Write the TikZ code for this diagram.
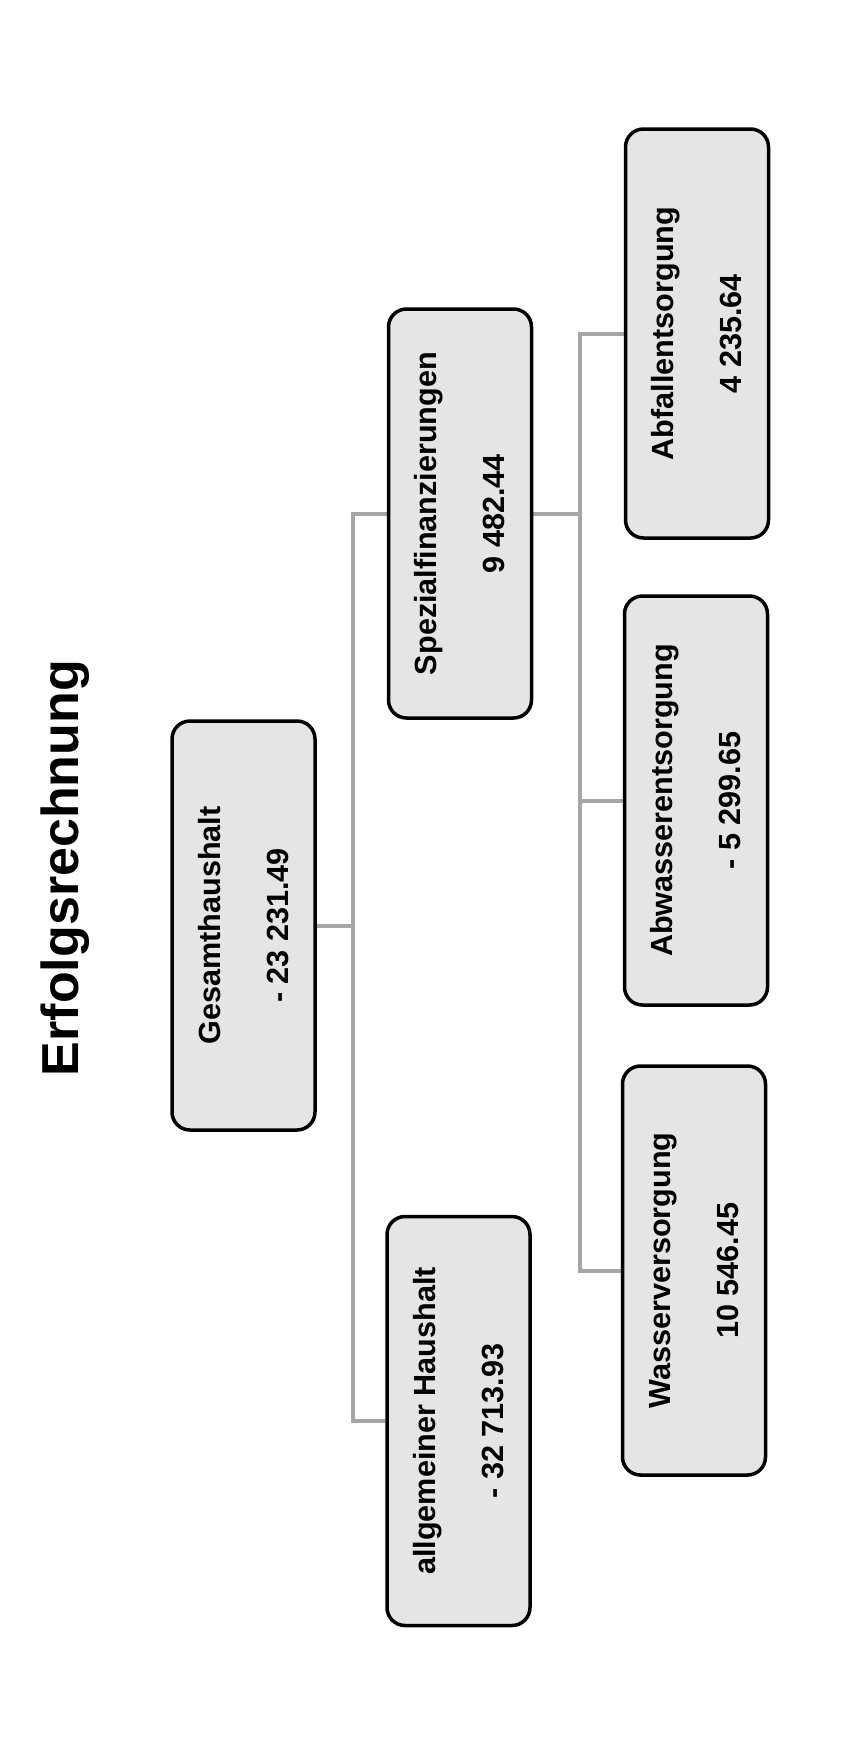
\documentclass[tikz,border=0pt]{standalone}
\usepackage{fontspec}
\setmainfont{Liberation Sans}
\usetikzlibrary{backgrounds}
\tikzset{
  x=1pt, y=1pt,
  konto/.style={draw=black, line width=3.5pt, fill=gray!20, rounded corners=18pt,
    rotate=90, minimum width=409pt, minimum height=143pt, inner sep=0pt,
    align=center, font=\fontsize{30.6}{68}\selectfont\bfseries},
  link/.style={draw=black!35, line width=4pt},
}

\begin{document}
\begin{tikzpicture}
  \useasboundingbox (0,0) rectangle (845,-1738);

  % title
  \node[rotate=90, font=\fontsize{52}{60}\selectfont\bfseries] (title) at (65,-868) {Erfolgsrechnung};

  % boxes
  \node[konto] (gesamt) at (243.5,-925.5) {Gesamthaushalt\\- 23 231.49};
  \node[konto] (spezial) at (460,-513.5) {Spezialfinanzierungen\\9 482.44};
  \node[konto] (allgemein) at (458.5,-1421) {allgemeiner Haushalt\\- 32 713.93};
  \node[konto] (abfall) at (697,-333.5) {Abfallentsorgung\\4 235.64};
  \node[konto] (abwasser) at (696,-800.5) {Abwasserentsorgung\\- 5 299.65};
  \node[konto] (wasser) at (694,-1270.5) {Wasserversorgung\\10 546.45};

  % links
  \coordinate (bus1) at (353,0);
  \coordinate (bus2) at (580,0);
  \begin{scope}[on background layer]
    \fill[white] (0,0) rectangle (845,-1738);
    \draw[link] (gesamt.south) -- (gesamt.south -| bus1);
    \draw[link] (spezial.north) -- (spezial.north -| bus1) |- (allgemein.north);
    \draw[link] (spezial.south) -- (spezial.south -| bus2);
    \draw[link] (abfall.north) -- (abfall.north -| bus2) |- (wasser.north);
    \draw[link] (abwasser.north) -- (abwasser.north -| bus2);
  \end{scope}
\end{tikzpicture}
\end{document}
